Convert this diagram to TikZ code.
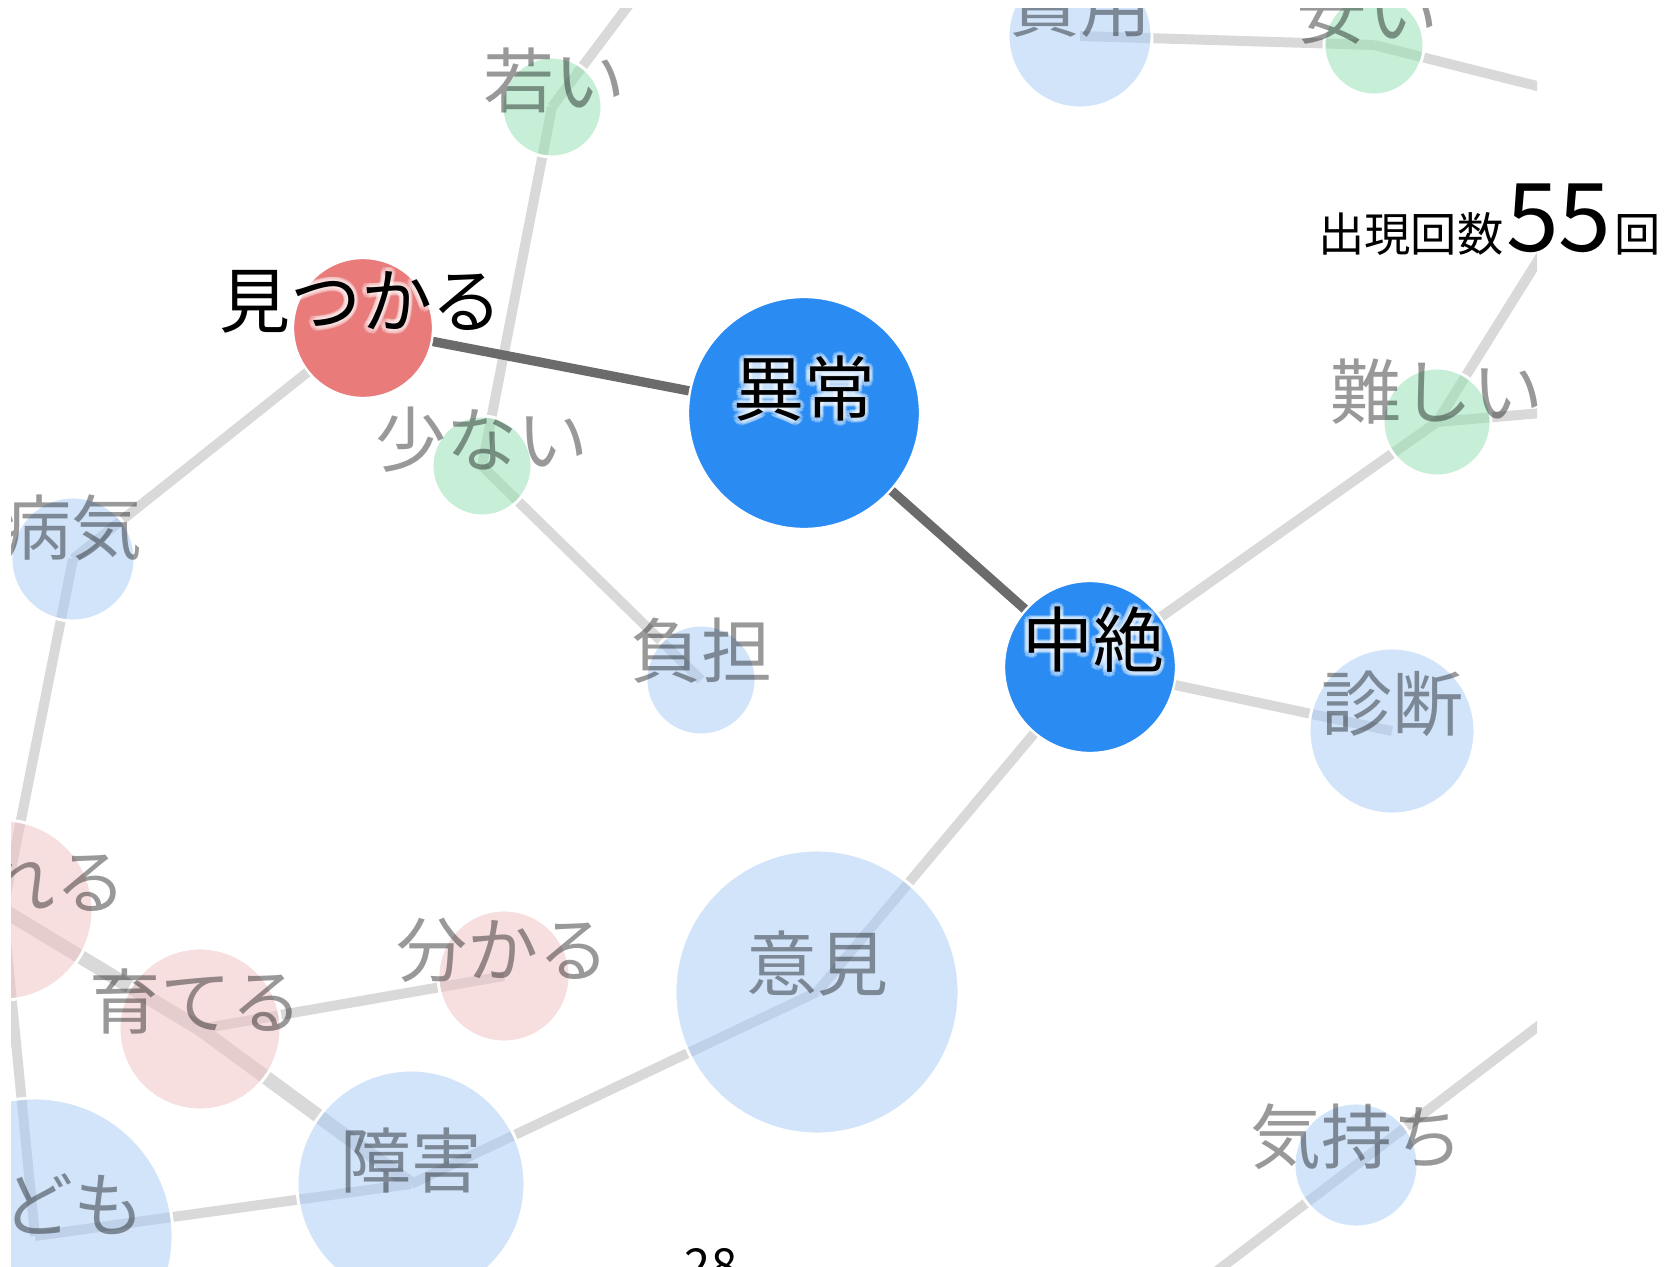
\documentclass[tikz,border=0pt]{standalone}
\usepackage{fontspec}
\newfontfamily\jp{Noto Sans CJK JP}
\usetikzlibrary{calc}
\definecolor{hblue}{HTML}{2A8CF2}
\definecolor{hred}{HTML}{E97B7B}
\definecolor{lblue}{HTML}{A5CBF7}
\definecolor{lgreen}{HTML}{91E1B1}
\definecolor{lpink}{HTML}{F1C1C3}
\definecolor{egray}{HTML}{D9D9D9}
\definecolor{edark}{HTML}{6B6B6B}
\tikzset{
  ledge/.style={line width=8.5pt, draw=egray},
  tedge/.style={line width=12pt, draw=egray},
  hedge/.style={line width=8pt, draw=edark},
  lnode/.style={circle, inner sep=0pt, minimum size=#1*0.06cm, draw=white, line width=2.5pt, fill opacity=0.5},
  hnode/.style={circle, inner sep=0pt, minimum size=#1*0.06cm, draw=white, line width=2pt},
  llab/.style={inner sep=0pt, font={\jp\fontsize{60.6}{72}\selectfont}, text=black, text opacity=0.4},
  hlab/.style={inner sep=0pt, font={\jp\fontsize{60.6}{72}\selectfont}, text=black},
}
\newcommand\hlabel[3]{%
  \foreach \ang in {0,30,...,330}{%
    \node[hlab, text=white, text opacity=0.25] (#1g\ang) at ($(#2)+(\ang:4.5)$) {#3};
  }%
  \node[hlab] (#1) at (#2) {#3};
}
\begin{document}
\begin{tikzpicture}[x=0.03cm,y=-0.03cm]
\useasboundingbox (0,0) rectangle (1673,1267);
\fill[white] (0,0) rectangle (1673,1267);
% node centres
\coordinate (ijou) at (804,413);
\coordinate (chuzetsu) at (1090,667);
\coordinate (mitsukaru) at (363,328);
\coordinate (wakai) at (552,107);
\coordinate (sukunai) at (482,466);
\coordinate (byouki) at (73,559);
\coordinate (futan) at (701,680);
\coordinate (muzukashii) at (1437,422);
\coordinate (shindan) at (1392,731);
\coordinate (iken) at (817,992);
\coordinate (wakaru) at (504,976);
\coordinate (sodateru) at (200,1029);
\coordinate (reru) at (3,910);
\coordinate (shougai) at (411,1184);
\coordinate (kodomo) at (35,1236);
\coordinate (kimochi) at (1356,1165);
\coordinate (hiyou) at (1080,36);
\coordinate (yasui) at (1374,45);
% off-picture ends
\coordinate (wakaiUp) at (640,-10);
\coordinate (mzUp) at (1600,161);
\coordinate (mzRight) at (1600,408);
\coordinate (ysRight) at (1700,127);
\coordinate (kmUR) at (1600,979);
\coordinate (kmLL) at (1150,1322);
\begin{scope}
\clip (11,9) rectangle (1537,1267);
% light edges
\draw[ledge] (wakai) -- (wakaiUp);
\draw[ledge] (wakai) -- (sukunai);
\draw[ledge] (sukunai) -- (futan);
\draw[ledge] (mitsukaru) -- (byouki);
\draw[ledge] (byouki) -- (reru);
\draw[ledge] (reru) -- (kodomo);
\draw[tedge] (reru) -- (sodateru);
\draw[tedge] (sodateru) -- (shougai);
\draw[ledge] (sodateru) -- (wakaru);
\draw[ledge] (kodomo) -- (shougai);
\draw[ledge] (shougai) -- (iken);
\draw[ledge] (iken) -- (chuzetsu);
\draw[ledge] (chuzetsu) -- (muzukashii);
\draw[ledge] (chuzetsu) -- (shindan);
\draw[ledge] (muzukashii) -- (mzUp);
\draw[ledge] (muzukashii) -- (mzRight);
\draw[ledge] (hiyou) -- (yasui);
\draw[ledge] (yasui) -- (ysRight);
\draw[ledge] (kimochi) -- (kmUR);
\draw[ledge] (kimochi) -- (kmLL);
% light nodes
\node[lnode=50, fill=lgreen] (nwakai) at (wakai) {};
\node[lnode=50, fill=lgreen] (nsukunai) at (sukunai) {};
\node[lnode=62, fill=lblue] (nbyouki) at (byouki) {};
\node[lnode=55, fill=lblue] (nfutan) at (futan) {};
\node[lnode=54, fill=lgreen] (nmuzukashii) at (muzukashii) {};
\node[lnode=83, fill=lblue] (nshindan) at (shindan) {};
\node[lnode=142, fill=lblue] (niken) at (iken) {};
\node[lnode=66, fill=lpink] (nwakaru) at (wakaru) {};
\node[lnode=81, fill=lpink] (nsodateru) at (sodateru) {};
\node[lnode=90, fill=lpink] (nreru) at (reru) {};
\node[lnode=114, fill=lblue] (nshougai) at (shougai) {};
\node[lnode=138, fill=lblue] (nkodomo) at (kodomo) {};
\node[lnode=62, fill=lblue] (nkimochi) at (kimochi) {};
\node[lnode=72, fill=lblue] (nhiyou) at (hiyou) {};
\node[lnode=50, fill=lgreen] (nyasui) at (yasui) {};
% light labels
\node[llab] (twakai) at (554,80) {若い};
\node[llab] (tsukunai) at (482,440) {少ない};
\node[llab] (tbyouki) at (71,528) {病気};
\node[llab] (tfutan) at (701,651) {負担};
\node[llab] (tmuzukashii) at (1437,392) {難しい};
\node[llab] (tshindan) at (1392,704) {診断};
\node[llab] (tiken) at (817,964) {意見};
\node[llab] (twakaru) at (503,950) {分かる};
\node[llab] (tsodateru) at (196,1001) {育てる};
\node[llab, anchor=east] (treru) at (127,882) {れる};
\node[llab] (tshougai) at (411,1161) {障害};
\node[llab, anchor=east] (tkodomo) at (145,1204) {ども};
\node[llab] (tkimochi) at (1357,1137) {気持ち};
\node[llab] (thiyou) at (1080,5) {費用};
\node[llab] (tyasui) at (1367,12) {安い};
% highlighted edges and nodes
\draw[hedge] (mitsukaru) -- (ijou);
\draw[hedge] (ijou) -- (chuzetsu);
\node[hnode=116, fill=hblue] (nijou) at (ijou) {};
\node[hnode=86, fill=hblue] (nchuzetsu) at (chuzetsu) {};
\node[hnode=70, fill=hred] (nmitsukaru) at (mitsukaru) {};
\hlabel{tijou}{804,389}{異常}
\hlabel{tchuzetsu}{1093,640}{中絶}
\hlabel{tmitsukaru}{361,302}{見つかる}
\end{scope}
% count
\node[anchor=base west, inner sep=0pt, font={\jp\fontsize{39.5}{44}\selectfont}] (cnta) at (1318,252) {出現回数};
\node[anchor=base west, inner sep=0pt, font={\jp\fontsize{81}{90}\selectfont}] (cntb) at (1506,252) {55};
\node[anchor=base west, inner sep=0pt, font={\jp\fontsize{39.5}{44}\selectfont}] (cntc) at (1614,252) {回};
% page number
\node[anchor=base, inner sep=0pt, font={\jp\fontsize{40}{44}\selectfont}] (pnum) at (711,1282) {28};
\end{tikzpicture}
\end{document}
